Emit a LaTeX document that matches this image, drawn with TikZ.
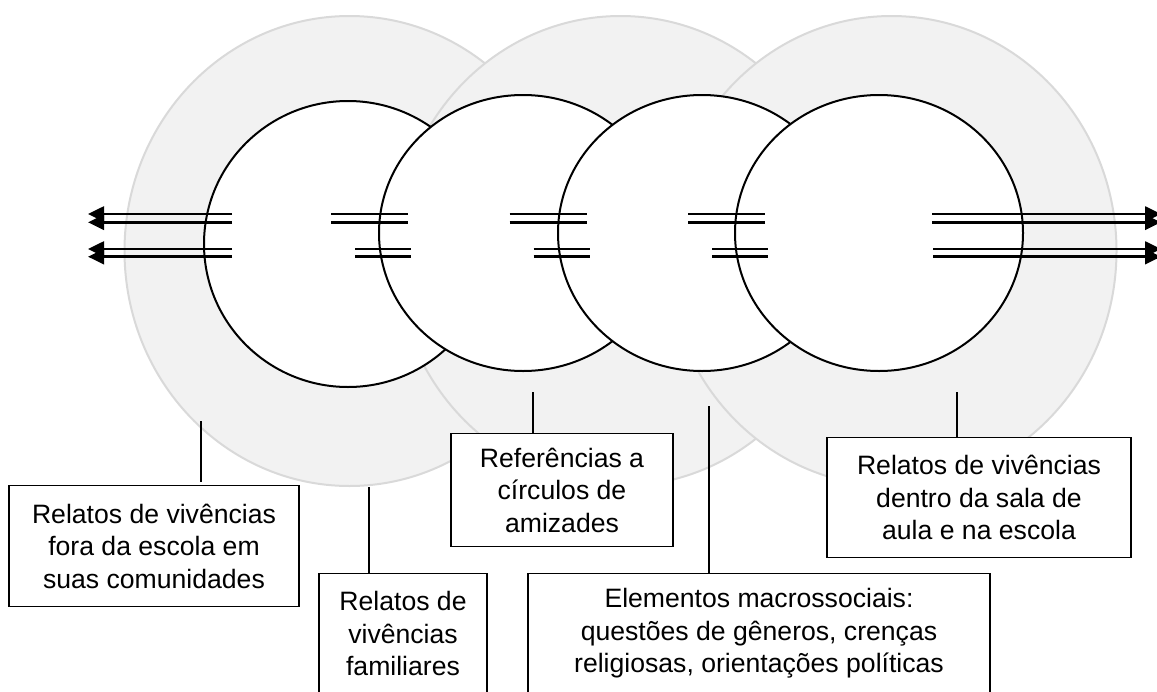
\documentclass[tikz,border=0pt]{standalone}
\usepackage{fontspec}
\setmainfont{Liberation Sans}
\usetikzlibrary{arrows.meta,calc,shapes.geometric}
\definecolor{ringfill}{HTML}{F2F2F2}
\definecolor{ringline}{HTML}{D9D9D9}
\begin{document}
\begin{tikzpicture}[x=1pt,y=-1pt,
  ring/.style={ellipse, draw=ringline, fill=ringfill, line width=2pt, inner sep=0pt, minimum width=450pt, minimum height=470pt},
  inner/.style={ellipse, draw=black, fill=white, line width=2pt, inner sep=0pt},
  dbl/.style={line width=2.6pt, black},
  tipd/.style={-{Triangle[length=16pt,width=15pt]}},
  conn/.style={line width=2pt, black},
  box/.style={draw=black, fill=white, line width=1.3pt, inner sep=0pt, align=center,
              font=\fontsize{26.6}{32.5}\selectfont}]
\useasboundingbox (0,0) rectangle (1157,691);
% large grey rings
\node[ring] (g1) at (349.5,251) {};
\node[ring] (g2) at (620.5,251) {};
\node[ring] (g3) at (891.5,251) {};
% white ellipses
\node[inner, minimum width=288pt, minimum height=286pt] (e1) at (348,244) {};
\node[inner, minimum width=288pt, minimum height=276pt] (e2) at (523,233) {};
\node[inner, minimum width=288pt, minimum height=276pt] (e3) at (702,233) {};
\node[inner, minimum width=288pt, minimum height=276pt] (e4) at (879,233) {};
% left arrows
\coordinate (la1) at (232,214);   \coordinate (lt1) at (88,214);
\coordinate (la2) at (232,222.3); \coordinate (lt2) at (88,222.3);
\coordinate (la3) at (232,249);   \coordinate (lt3) at (88,249);
\coordinate (la4) at (232,256.7); \coordinate (lt4) at (88,256.7);
\draw[dbl,tipd] (la1) -- (lt1);
\draw[dbl,tipd] (la2) -- (lt2);
\draw[dbl,tipd] (la3) -- (lt3);
\draw[dbl,tipd] (la4) -- (lt4);
% right arrows
\coordinate (ra1) at (932,214);   \coordinate (rt1) at (1161,214);
\coordinate (ra2) at (932,222.3); \coordinate (rt2) at (1161,222.3);
\coordinate (ra3) at (933,249);   \coordinate (rt3) at (1161,249);
\coordinate (ra4) at (933,256.7); \coordinate (rt4) at (1161,256.7);
\draw[dbl,tipd] (ra1) -- (rt1);
\draw[dbl,tipd] (ra2) -- (rt2);
\draw[dbl,tipd] (ra3) -- (rt3);
\draw[dbl,tipd] (ra4) -- (rt4);
% double marks between ellipses
\foreach \x in {331,509.5,688}{
  \draw[dbl] (\x,214) -- ++(77,0);
  \draw[dbl] (\x,222.3) -- ++(77,0);
  \draw[dbl] (\x+24,249) -- ++(56,0);
  \draw[dbl] (\x+24,256.7) -- ++(56,0);
}
% boxes
\node[box, anchor=north, minimum width=290pt, minimum height=121pt] (bA) at (154,485)
  {Relatos de vivências\\fora da escola em\\suas comunidades};
\node[box, anchor=north, minimum width=168pt, minimum height=120pt] (bB) at (403,573)
  {Relatos de\\vivências\\familiares};
\node[box, anchor=north, minimum width=222pt, minimum height=113pt] (bC) at (562,433)
  {Referências a\\círculos de\\amizades};
\node[box, anchor=north, minimum width=462pt, minimum height=120pt] (bD) at (759,573)
  {Elementos macrossociais:\\questões de gêneros, crenças\\religiosas, orientações políticas};
\node[box, anchor=north, minimum width=304pt, minimum height=120pt] (bE) at (979,437)
  {Relatos de vivências\\dentro da sala de\\aula e na escola};
% connectors
\coordinate (tA) at (201,421);
\coordinate (tB) at (369,487);
\coordinate (tC) at (533,392);
\coordinate (tD) at (709,406);
\coordinate (tE) at (957,392);
\draw[conn, shorten >=3pt] (tA) -- (tA |- bA.north);
\draw[conn] (tB) -- (tB |- bB.north);
\draw[conn] (tC) -- (tC |- bC.north);
\draw[conn] (tD) -- (tD |- bD.north);
\draw[conn] (tE) -- (tE |- bE.north);
\end{tikzpicture}
\end{document}
